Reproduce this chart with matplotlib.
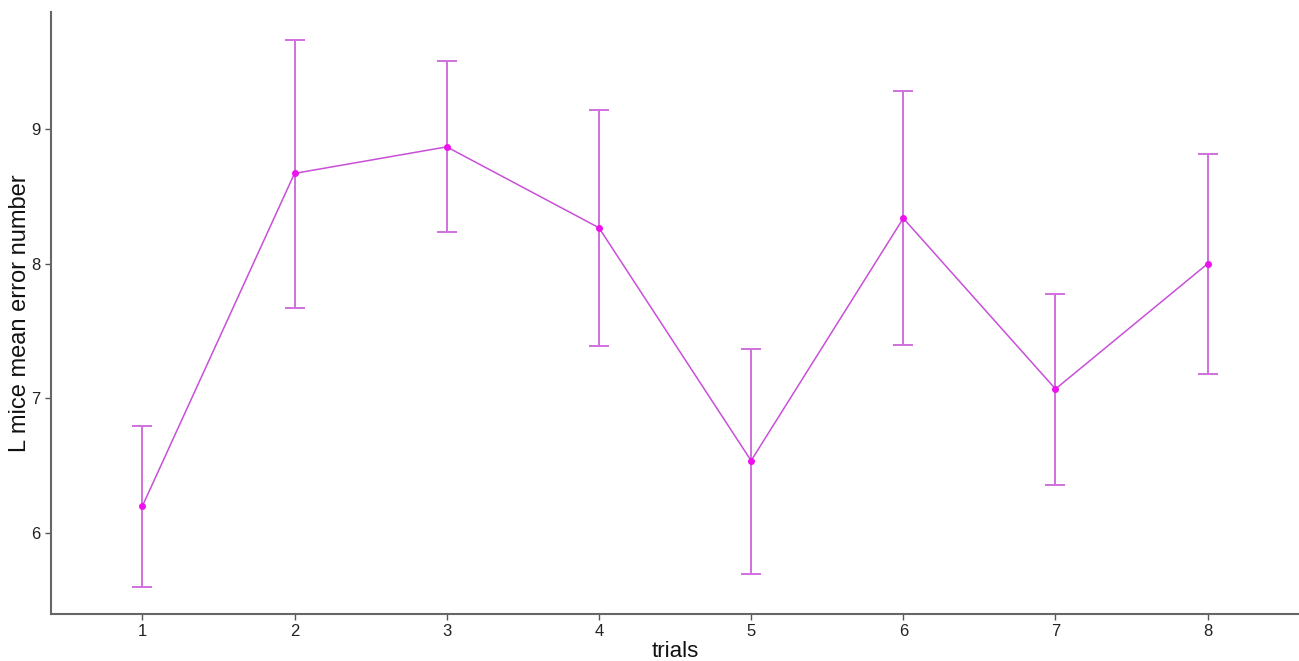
import matplotlib
matplotlib.use("Agg")
import matplotlib.pyplot as plt

trials = [1, 2, 3, 4, 5, 6, 7, 8]
mean_errors = [6.20, 8.67, 8.867, 8.267, 6.538, 8.337, 7.07, 8.00]
err_upper = [6.794, 9.658, 9.502, 9.14, 7.366, 9.279, 7.773, 8.814]
err_lower = [5.60, 7.674, 8.234, 7.39, 5.70, 7.395, 6.359, 7.18]
yticks = [6, 7, 8, 9]

plt.rcParams['font.family'] = ['Liberation Sans', 'DejaVu Sans']

fig = plt.figure(figsize=(12.99, 6.61), dpi=100)
ax = fig.add_axes([51/1299, 1 - 614/661, 1 - 51/1299, (614 - 12)/661])

yerr = [[m - lo for m, lo in zip(mean_errors, err_lower)],
        [hi - m for m, hi in zip(mean_errors, err_upper)]]
ax.errorbar(trials, mean_errors, yerr=yerr, fmt='none', ecolor='#D070DC',
            elinewidth=1.4, capsize=7.5, capthick=1.4, zorder=2)
ax.plot(trials, mean_errors, color='#C850D8', linewidth=1.1, zorder=3)
ax.plot(trials, mean_errors, 'o', color='#EE11EE', markersize=4, zorder=4)

ax.set_xlim(0.4, 8.6)
ax.set_ylim(5.40, 9.868)
ax.set_xticks(trials)
ax.set_yticks(yticks)
ax.tick_params(axis='both', colors='#555555', labelcolor='#222222', labelsize=12,
               length=4, width=1)
for side in ['top', 'right']:
    ax.spines[side].set_visible(False)
for side in ['left', 'bottom']:
    ax.spines[side].set_color('#666666')
    ax.spines[side].set_linewidth(1.5)

ax.set_xlabel('trials', fontsize=16, color='#111111', labelpad=1)
ax.set_ylabel('L mice mean error number', fontsize=17, color='#111111', labelpad=0)

fig.savefig('out.png', dpi=100, facecolor='white')
